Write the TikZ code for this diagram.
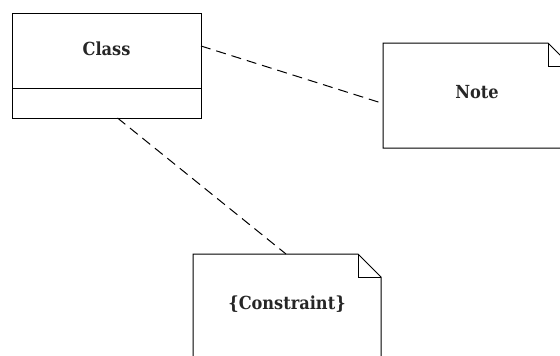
\documentclass[tikz,border=0pt]{standalone}
\usepackage{fontspec}
\setmainfont{DejaVu Serif Condensed}
\usepackage{tikz}
\usetikzlibrary{calc,positioning}

\begin{document}
\begin{tikzpicture}[x=1pt, y=1pt, line width=1pt,
  label font/.style={font=\fontsize{18pt}{21pt}\selectfont\bfseries, text=black!85},
  box/.style={draw, label font, minimum width=189pt, inner sep=0pt, outer sep=0pt,
    text height=13pt, text depth=4pt},
  note/.style={label font, minimum width=188pt, minimum height=105pt, inner sep=0pt, outer sep=0pt,
    text height=13pt, text depth=7pt},
  link/.style={dash pattern=on 10pt off 6pt}]
			\clip (0,0) rectangle (560,-356);
			\node[box, minimum height=75pt] (class) at (106.5,-50.5) {Class};
			\node[box, minimum height=30pt, below=0pt of class] (classattr) {};
			\node[note] (note) at (477,-95.5) {Note};
			\node[note] (constraint) at (287,-306.5) {\{Constraint\}};
			% note outlines with folded corner
			\foreach \n in {note,constraint} {
			    \draw (\n.south west) -- (\n.north west) -- ([xshift=-23pt]\n.north east)
			          -- ([yshift=-23pt]\n.north east) -- (\n.south east) -- cycle;
			    \draw ([xshift=-23pt]\n.north east) |- ([yshift=-23pt]\n.north east);
			}
			\draw[link] ([yshift=4.5pt]class.east) -- ([yshift=-8pt]note.west);
			\draw[link] ([xshift=11pt]classattr.south) -- ([xshift=-1pt]constraint.north);
		\end{tikzpicture}
\end{document}
